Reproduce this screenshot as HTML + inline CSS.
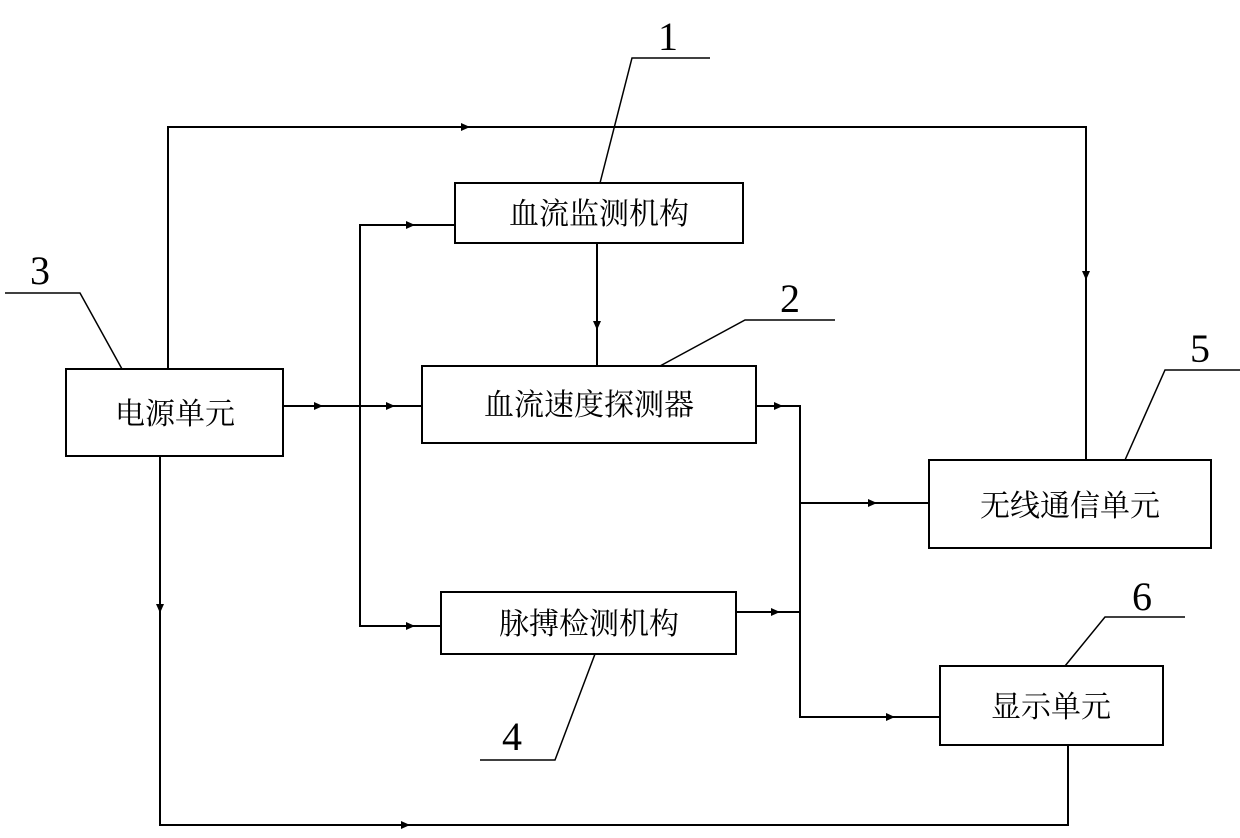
<!DOCTYPE html>
<html><head><meta charset="utf-8"><style>
html,body{margin:0;padding:0;background:#fff;}
svg{display:block;}
text{font-family:"Liberation Serif","Noto Serif CJK SC","Noto Sans CJK SC",serif;fill:#000;}
</style></head><body>
<svg width="1240" height="838" viewBox="0 0 1240 838" xmlns="http://www.w3.org/2000/svg">
<defs>
<marker id="a" markerWidth="10" markerHeight="8" refX="5" refY="4" orient="auto" markerUnits="userSpaceOnUse">
<path d="M0,0 L10,4 L0,8 z" fill="#000"/></marker>
</defs>
<g fill="none" stroke="#000" stroke-width="2">
<rect x="455" y="183" width="288" height="60"/>
<rect x="422" y="366" width="334" height="77"/>
<rect x="66" y="369" width="217" height="87"/>
<rect x="441" y="592" width="295" height="62"/>
<rect x="929" y="460" width="282" height="88"/>
<rect x="940" y="666" width="223" height="79"/>
<polyline points="168,369 168,127 1086,127 1086,460"/>
<line x1="283" y1="406" x2="422" y2="406"/>
<polyline points="455,225 360,225 360,626 441,626"/>
<line x1="597" y1="243" x2="597" y2="366"/>
<polyline points="756,406 800,406 800,717 940,717"/>
<line x1="800" y1="503" x2="929" y2="503"/>
<line x1="736" y1="612" x2="800" y2="612"/>
<polyline points="160,456 160,825 1068,825 1068,745"/>
<polyline stroke-width="1.5" points="600,183 632,58 710,58"/>
<polyline stroke-width="1.5" points="660,366 745,320 835,320"/>
<polyline stroke-width="1.5" points="5,293 80,293 122,369"/>
<polyline stroke-width="1.5" points="480,760 555,760 595,654"/>
<polyline stroke-width="1.5" points="1240,370 1165,370 1125,460"/>
<polyline stroke-width="1.5" points="1185,617 1105,617 1065,666"/>
</g>
<g stroke="none" fill="#000">
<path d="M470,127 l-9,-4 v8 z"/>
<path d="M1086,280 l-4,-9 h8 z"/>
<path d="M323,406 l-9,-4 v8 z"/>
<path d="M395,406 l-9,-4 v8 z"/>
<path d="M415,225 l-9,-4 v8 z"/>
<path d="M415,626 l-9,-4 v8 z"/>
<path d="M597,330 l-4,-9 h8 z"/>
<path d="M783,406 l-9,-4 v8 z"/>
<path d="M877,503 l-9,-4 v8 z"/>
<path d="M780,612 l-9,-4 v8 z"/>
<path d="M895,717 l-9,-4 v8 z"/>
<path d="M160,613 l-4,-9 h8 z"/>
<path d="M410,825 l-9,-4 v8 z"/>
</g>
<g font-size="30" text-anchor="middle">
<text x="599" y="224">血流监测机构</text>
<text x="589" y="415">血流速度探测器</text>
<text x="175" y="424">电源单元</text>
<text x="589" y="634">脉搏检测机构</text>
<text x="1070" y="516">无线通信单元</text>
<text x="1051" y="717">显示单元</text>
</g>
<g font-size="40" text-anchor="middle">
<text x="668" y="50">1</text>
<text x="790" y="312">2</text>
<text x="40" y="284">3</text>
<text x="512" y="750">4</text>
<text x="1200" y="362">5</text>
<text x="1142" y="610">6</text>
</g>
</svg>
</body></html>
